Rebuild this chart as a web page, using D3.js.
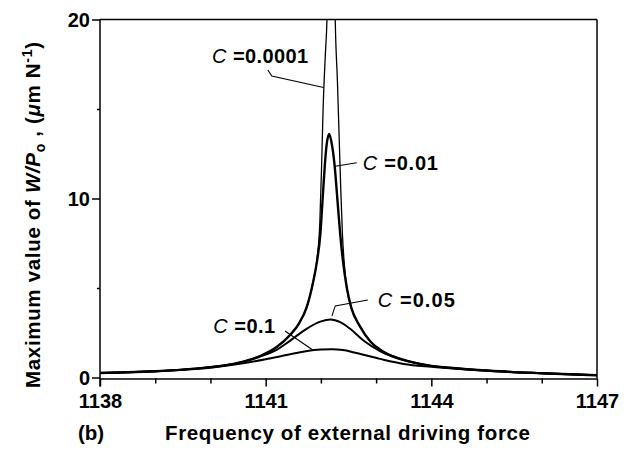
<html>
<head>
  <style>
    body { margin: 0; background: #fff; }
    svg { font-family: "Liberation Sans", Arial, sans-serif; }
    .tick text { font-size: 20px; font-weight: bold; fill: #000; }
    .tick line { stroke: #000; stroke-width: 1.5; }
    .curve { fill: none; stroke: #000; stroke-linejoin: round; }
    .label { font-size: 20px; font-weight: bold; fill: #000; }
    .leader { fill: none; stroke: #000; stroke-width: 1.1; }
  </style>
</head>
<body>
  <script src="https://cdn.jsdelivr.net/npm/d3@7"></script>
  <script>
    var width = 629;
    var height = 450;

    // values: [frequency, max W/Po]
    const curveC0001 = [
      [1138.0, 0.25], [1138.5, 0.29], [1139.0, 0.35], [1139.5, 0.44], [1140.0, 0.58],
      [1140.5, 0.82], [1140.9, 1.2], [1141.2, 1.7], [1141.45, 2.4], [1141.6, 3.0],
      [1141.74, 3.9], [1141.85, 5.2], [1141.93, 6.6], [1141.98, 8.6], [1142.01, 11.5],
      [1142.04, 15.0], [1142.08, 18.0], [1142.11, 20.0], [1142.19, 40.0], [1142.26, 20.0],
      [1142.3, 16.5], [1142.33, 13.5], [1142.36, 10.5], [1142.39, 8.0], [1142.42, 6.5],
      [1142.47, 5.0], [1142.55, 3.9], [1142.7, 2.9], [1142.9, 2.0], [1143.1, 1.5],
      [1143.4, 1.08], [1143.8, 0.76], [1144.0, 0.65], [1144.5, 0.5], [1145.0, 0.39],
      [1145.5, 0.3], [1146.0, 0.24], [1146.5, 0.18], [1147.0, 0.13]
    ];
    const curveC001 = [
      [1138.0, 0.25], [1138.5, 0.29], [1139.0, 0.35], [1139.5, 0.44], [1140.0, 0.58],
      [1140.5, 0.82], [1140.9, 1.2], [1141.2, 1.7], [1141.45, 2.4], [1141.6, 3.0],
      [1141.74, 3.9], [1141.85, 5.2], [1141.93, 6.5], [1141.99, 8.0], [1142.03, 9.9],
      [1142.07, 11.8], [1142.1, 12.9], [1142.15, 13.6], [1142.2, 13.0], [1142.25, 11.8],
      [1142.3, 9.9], [1142.35, 8.0], [1142.4, 6.5], [1142.47, 5.0], [1142.55, 3.9],
      [1142.7, 2.9], [1142.9, 2.0], [1143.1, 1.5], [1143.4, 1.08], [1143.8, 0.76],
      [1144.0, 0.65], [1144.5, 0.5], [1145.0, 0.39], [1145.5, 0.3], [1146.0, 0.24],
      [1146.5, 0.18], [1147.0, 0.13]
    ];
    const curveC005 = [
      [1138.0, 0.25], [1138.5, 0.29], [1139.0, 0.35], [1139.5, 0.44], [1140.0, 0.58],
      [1140.5, 0.81], [1140.9, 1.17], [1141.2, 1.55], [1141.44, 2.05], [1141.74, 2.72],
      [1141.99, 3.12], [1142.18, 3.24], [1142.35, 3.09], [1142.53, 2.72], [1142.77, 2.07],
      [1143.07, 1.48], [1143.4, 1.06], [1143.8, 0.76], [1144.0, 0.65], [1144.5, 0.5],
      [1145.0, 0.39], [1145.5, 0.3], [1146.0, 0.24], [1146.5, 0.18], [1147.0, 0.13]
    ];
    const curveC01 = [
      [1138.0, 0.25], [1138.5, 0.29], [1139.0, 0.35], [1139.5, 0.43], [1140.0, 0.55],
      [1140.5, 0.75], [1141.0, 1.02], [1141.4, 1.27], [1141.75, 1.48], [1142.0, 1.56],
      [1142.2, 1.58], [1142.4, 1.53], [1142.6, 1.4], [1143.07, 1.04], [1143.5, 0.76],
      [1144.0, 0.6], [1144.5, 0.48], [1145.0, 0.38], [1145.5, 0.3], [1146.0, 0.24],
      [1146.5, 0.18], [1147.0, 0.13]
    ];

    const freqMajor = [1138, 1141, 1144, 1147];
    const freqMinor = [1139, 1140, 1142, 1143, 1145, 1146];
    const wMajor = [0, 10, 20];
    const wMinor = [5, 15];

    // label text anchor [freq, value] and leader line points
    const labels = [
      { name: "0.0001", at: [1140.03, 17.57], len: 96, leader: [[1141.04, 17.18], [1141.11, 16.84], [1142.05, 16.2]] },
      { name: "0.01", at: [1142.76, 11.59], len: 75, leader: [[1142.65, 12.0], [1142.26, 11.8]] },
      { name: "0.05", at: [1143.03, 3.94], len: 77, leader: [[1142.85, 4.33], [1142.26, 4.0], [1142.2, 3.44]] },
      { name: "0.1", at: [1140.05, 2.49], len: 62, leader: [[1141.35, 2.6], [1141.86, 1.52]] }
    ];

    var x = d3.scaleLinear().domain([1138, 1147]).range([100, 597]);
    var y = d3.scaleLinear().domain([0, 20]).range([377.5, 19.5]);

    var svg = d3.select("body").append("svg")
      .attr("width", width)
      .attr("height", height);

    svg.append("defs").append("clipPath").attr("id", "plot-clip")
      .append("rect")
      .attr("x", x(1138)).attr("y", y(20))
      .attr("width", x(1147) - x(1138)).attr("height", y(0) - y(20) + 4);

    // frame: top and right edges
    svg.append("line")
      .attr("x1", x(1138)).attr("x2", x(1147))
      .attr("y1", y(20)).attr("y2", y(20))
      .style("stroke", "#000").style("stroke-width", 1.5);
    svg.append("line")
      .attr("x1", x(1147)).attr("x2", x(1147))
      .attr("y1", y(20)).attr("y2", y(0) + 1)
      .style("stroke", "#000").style("stroke-width", 1.5);

    // x axis
    var xAxisY = y(0) + 1;
    var xAxis = svg.append("g")
      .attr("transform", "translate(0," + xAxisY + ")")
      .call(d3.axisBottom(x).tickValues(freqMajor).tickSize(8).tickSizeOuter(0).tickPadding(6).tickFormat(d3.format("d")));
    xAxis.select(".domain").style("stroke", "#000").style("stroke-width", 1.5);
    xAxis.selectAll(".tick text").attr("dy", "0.75em").attr("y", 14);

    var xMinor = svg.append("g")
      .attr("transform", "translate(0," + xAxisY + ")")
      .call(d3.axisBottom(x).tickValues(freqMinor).tickSize(5).tickFormat(""));
    xMinor.select(".domain").remove();

    // y axis
    var yAxis = svg.append("g")
      .attr("transform", "translate(" + x(1138) + ",0)")
      .call(d3.axisLeft(y).tickValues(wMajor).tickSize(8).tickSizeOuter(0).tickPadding(2).tickFormat(d3.format("d")));
    yAxis.select(".domain").remove();
    yAxis.selectAll(".tick text").attr("dy", "0.36em");

    var yMinor = svg.append("g")
      .attr("transform", "translate(" + x(1138) + ",0)")
      .call(d3.axisLeft(y).tickValues(wMinor).tickSize(3).tickFormat(""));
    yMinor.select(".domain").remove();

    svg.append("line")
      .attr("x1", x(1138)).attr("x2", x(1138))
      .attr("y1", y(20)).attr("y2", xAxisY + 8)
      .style("stroke", "#000").style("stroke-width", 1.5);

    // curves
    var line = d3.line()
      .x(d => x(d[0]))
      .y(d => y(d[1]))
      .curve(d3.curveMonotoneX);

    var curveSpace = svg.append("g").attr("clip-path", "url(#plot-clip)");
    [[curveC01, 2.0], [curveC005, 2.0], [curveC001, 2.4], [curveC0001, 1.3]].forEach(function (c) {
      curveSpace.append("path")
        .attr("class", "curve")
        .attr("d", line(c[0]))
        .style("stroke-width", c[1]);
    });

    // labels
    labels.forEach(function (l) {
      var t = svg.append("text")
        .attr("class", "label")
        .attr("x", x(l.at[0]))
        .attr("y", y(l.at[1]))
        .attr("textLength", l.len)
        .attr("lengthAdjust", "spacing");
      t.append("tspan").style("font-style", "italic").style("font-weight", "normal").text("C");
      t.append("tspan").text(" =" + l.name);
      svg.append("path")
        .attr("class", "leader")
        .attr("d", d3.line().x(d => x(d[0])).y(d => y(d[1]))(l.leader));
    });

    // axis titles
    svg.append("text")
      .attr("x", 78).attr("y", 440)
      .style("font-size", "20.5px").style("font-weight", "bold")
      .text("(b)");

    svg.append("text")
      .attr("x", 165).attr("y", 440)
      .attr("textLength", 365).attr("lengthAdjust", "spacing")
      .style("font-size", "20.5px").style("font-weight", "bold")
      .text("Frequency of external driving  force");

    var yTitle = svg.append("text")
      .attr("transform", "translate(40,388) rotate(-90)")
      .attr("textLength", 346).attr("lengthAdjust", "spacing")
      .style("font-size", "20.5px").style("font-weight", "bold");
    yTitle.append("tspan").text("Maximum value of ");
    yTitle.append("tspan").style("font-style", "italic").text("W/P");
    yTitle.append("tspan").attr("dy", 5).style("font-size", "14px").text("o");
    yTitle.append("tspan").attr("dy", -5).text(" , (");
    yTitle.append("tspan").style("font-style", "italic").text("μ");
    yTitle.append("tspan").text("m N");
    yTitle.append("tspan").attr("dy", -8).style("font-size", "14px").text("-1");
    yTitle.append("tspan").attr("dy", 8).text(")");
  </script>
</body>
</html>
